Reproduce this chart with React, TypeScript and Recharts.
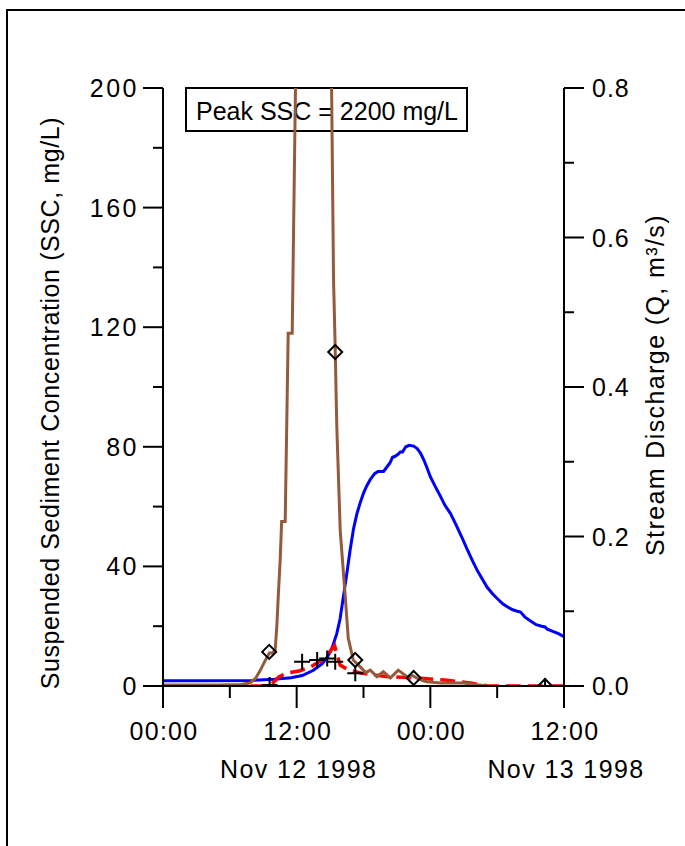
import React from 'react'
import { ComposedChart, Line, Scatter, XAxis, YAxis, Customized } from 'recharts'

// hours since 00:00 Nov 12 1998
const timeTicks = [0, 6, 12, 18, 24, 30, 36]
const timeLabels = ['00:00', '', '12:00', '', '00:00', '', '12:00']
const dateLabels = ['', '', 'Nov 12 1998', '', '', '', 'Nov 13 1998']

const sscTicks = [0, 20, 40, 60, 80, 100, 120, 140, 160, 180, 200]
const sscLabels = ['0', '', '40', '', '80', '', '120', '', '160', '', '200']
const qTicks = [0, 0.1, 0.2, 0.3, 0.4, 0.5, 0.6, 0.7, 0.8]
const qLabels = ['0.0', '', '0.2', '', '0.4', '', '0.6', '', '0.8']

// stream discharge, m3/s
const qHours = [0, 4, 8, 10, 11.5, 12.5, 13.5, 14.3, 14.8, 15.2, 15.6, 15.9, 16.2, 16.5, 16.8, 17.1, 17.4, 17.7, 18.0, 18.3, 18.6, 19.0, 19.3, 19.8, 20.1, 20.4, 20.6, 20.8, 21.1, 21.3, 21.5, 21.8, 22.1, 22.5, 22.8, 23.1, 23.4, 23.7, 24.0, 24.4, 24.9, 25.3, 25.8, 26.3, 26.8, 27.3, 27.8, 28.2, 28.7, 29.1, 29.6, 30.0, 30.5, 30.9, 31.4, 31.8, 32.1, 32.5, 33.0, 33.5, 34.0, 34.3, 34.5, 35.0, 35.5, 36.0]
const qValues = [0.007, 0.007, 0.0075, 0.009, 0.011, 0.014, 0.021, 0.03, 0.04, 0.052, 0.07, 0.09, 0.12, 0.15, 0.182, 0.21, 0.23, 0.245, 0.258, 0.268, 0.276, 0.284, 0.287, 0.287, 0.293, 0.299, 0.306, 0.307, 0.31, 0.313, 0.313, 0.32, 0.322, 0.321, 0.318, 0.312, 0.303, 0.292, 0.28, 0.268, 0.254, 0.242, 0.231, 0.216, 0.2, 0.183, 0.167, 0.155, 0.142, 0.132, 0.123, 0.117, 0.11, 0.106, 0.102, 0.1, 0.099, 0.092, 0.087, 0.082, 0.08, 0.079, 0.076, 0.073, 0.07, 0.066]

// SSC record (brown), mg/L - peaks at 2200 off the top of the axis
const sscHours = [0, 5, 7, 7.8, 8.3, 8.7, 9.1, 9.55, 9.8, 10.07, 10.22, 10.36, 10.52, 10.65, 10.97, 11.24, 11.6, 12.0, 13.5, 15.0, 15.31, 15.46, 15.55, 15.61, 15.91, 16.36, 16.63, 17.08, 17.71, 18.2, 18.61, 19.21, 19.78, 20.41, 21.12, 21.91, 22.4, 22.81, 23.3, 23.7, 24.9, 26.97, 28.0, 29.1]
const sscValues = [0.3, 0.3, 0.5, 1, 2.5, 5, 8, 11, 11, 12, 20, 31, 42, 55, 55, 118, 118, 230, 2200, 250, 136, 113, 96, 86, 52, 30, 16, 8.7, 6.4, 4.5, 5.3, 3.1, 4.8, 2.7, 5.3, 3.1, 3.5, 2.6, 1.8, 1.4, 1, 1, 0.5, 0]

// second SSC estimate (red dashed)
const estHours = [0, 9.6, 10.4, 11.0, 12.3, 13.3, 14.3, 14.9, 15.4, 15.9, 16.7, 17.8, 20.2, 23.1, 25.3, 27.6, 29.2, 36]
const estValues = [0, 0, 3, 4.2, 5.1, 6.5, 8.7, 11, 13.5, 7, 5.3, 4.3, 3.1, 2.6, 2, 1, 0, 0]

// grab samples
const diamondHours = [9.53, 15.46, 17.26, 22.5, 34.3]
const diamondValues = [11.4, 111.7, 8.7, 2.7, 0]
const plusHours = [9.57, 12.49, 13.84, 14.74, 15.46, 17.26, 34.3]
const plusValues = [0.3, 8.1, 8.7, 9.2, 8.1, 4.3, 0]

const toData = (t: number[], v: number[]) => t.map((h, i) => ({ t: h, v: v[i] }))
const qData = toData(qHours, qValues)
const sscData = toData(sscHours, sscValues)
const estData = toData(estHours, estValues)
const diamondData = toData(diamondHours, diamondValues)
const plusData = toData(plusHours, plusValues)

const FONT = 'Arial, "Liberation Sans", sans-serif'
const FS = 25

function BottomTick({ x, y, index }: any) {
  const major = timeLabels[index] !== ''
  return (
    <g>
      <line x1={x} y1={y} x2={x} y2={y + (major ? 22 : 12)} stroke="#000" strokeWidth={2} />
      {major && (
        <text x={x + 1} y={y + 54} textAnchor="middle" fontSize={FS} fontFamily={FONT} letterSpacing={1.3} fill="#000">
          {timeLabels[index]}
        </text>
      )}
      {dateLabels[index] && (
        <text x={x + 2} y={y + 92} textAnchor="middle" fontSize={FS} fontFamily={FONT} letterSpacing={1.4} fill="#000">
          {dateLabels[index]}
        </text>
      )}
    </g>
  )
}

function LeftTick({ x, y, index }: any) {
  const lbl = sscLabels[index]
  return (
    <g>
      <line x1={x - (lbl ? 20 : 10)} y1={y} x2={x} y2={y} stroke="#000" strokeWidth={2} />
      {lbl && (
        <text x={x - 24} y={y} dy="0.36em" textAnchor="end" fontSize={FS} fontFamily={FONT} letterSpacing={2.5} fill="#000">
          {lbl}
        </text>
      )}
    </g>
  )
}

function RightTick({ x, y, index }: any) {
  const lbl = qLabels[index]
  return (
    <g>
      <line x1={x} y1={y} x2={x + (lbl ? 20 : 10)} y2={y} stroke="#000" strokeWidth={2} />
      {lbl && (
        <text x={x + 28} y={y} dy="0.36em" textAnchor="start" fontSize={FS} fontFamily={FONT} letterSpacing={1} fill="#000">
          {lbl}
        </text>
      )}
    </g>
  )
}

const Diamond = ({ cx, cy }: any) => (
  <path d={`M${cx},${cy - 7}L${cx + 7},${cy}L${cx},${cy + 7}L${cx - 7},${cy}Z`} fill="none" stroke="#000" strokeWidth={2} />
)

const Plus = ({ cx, cy }: any) => (
  <path d={`M${cx - 8},${cy}H${cx + 8}M${cx},${cy - 8}V${cy + 8}`} fill="none" stroke="#000" strokeWidth={2} />
)

const Decor = () => (
  <g>
    <path d="M7,846V10H685" fill="none" stroke="#000" strokeWidth={2} />
    <rect x={186} y={88} width={281} height={43} fill="#fff" stroke="#000" strokeWidth={2} />
    <text x={196} y={120} fontSize={FS} fontFamily={FONT} fill="#000">Peak SSC = 2200 mg/L</text>
  </g>
)

export default function App() {
  return (
    <div style={{ position: 'absolute', left: 0, top: 0, width: 685, height: 846, background: '#fff' }}>
      <ComposedChart width={685} height={846} margin={{ top: 88, right: 21, bottom: 60, left: 63 }}>
        <XAxis
          type="number"
          dataKey="t"
          domain={[0, 36]}
          ticks={timeTicks}
          interval={0}
          height={100}
          tickSize={0}
          tickMargin={0}
          tickLine={false}
          axisLine={{ stroke: '#000', strokeWidth: 2 }}
          tick={<BottomTick />}
        />
        <YAxis
          yAxisId="ssc"
          dataKey="v"
          type="number"
          domain={[0, 200]}
          allowDataOverflow
          ticks={sscTicks}
          interval={0}
          width={100}
          tickSize={0}
          tickMargin={0}
          tickLine={false}
          axisLine={{ stroke: '#000', strokeWidth: 2 }}
          tick={<LeftTick />}
          label={{
            content: () => (
              <text x={50} y={403} transform="rotate(-90 50 403)" textAnchor="middle" dominantBaseline="central" fontSize={FS} fontFamily={FONT} letterSpacing={0.6} fill="#000">
                Suspended Sediment Concentration (SSC, mg/L)
              </text>
            ),
          }}
        />
        <YAxis
          yAxisId="q"
          orientation="right"
          dataKey="v"
          type="number"
          domain={[0, 0.8]}
          allowDataOverflow
          ticks={qTicks}
          interval={0}
          width={100}
          tickSize={0}
          tickMargin={0}
          tickLine={false}
          axisLine={{ stroke: '#000', strokeWidth: 2 }}
          tick={<RightTick />}
          label={{
            content: () => (
              <text x={655} y={385} transform="rotate(-90 655 385)" textAnchor="middle" dominantBaseline="central" fontSize={FS} fontFamily={FONT} letterSpacing={1.4} fill="#000">
                Stream Discharge (Q, m³/s)
              </text>
            ),
          }}
        />
        <Line yAxisId="q" data={qData} dataKey="v" type="linear" stroke="#0000ff" strokeWidth={3} dot={false} isAnimationActive={false} />
        <Line yAxisId="ssc" data={estData} dataKey="v" type="linear" stroke="#ff0000" strokeWidth={3.5} strokeDasharray="15 7" dot={false} isAnimationActive={false} />
        <Line yAxisId="ssc" data={sscData} dataKey="v" type="linear" stroke="#935b3b" strokeWidth={3} dot={false} isAnimationActive={false} />
        <Scatter yAxisId="ssc" data={diamondData} dataKey="v" shape={<Diamond />} isAnimationActive={false} />
        <Scatter yAxisId="ssc" data={plusData} dataKey="v" shape={<Plus />} isAnimationActive={false} />
        <Customized component={<Decor />} />
      </ComposedChart>
    </div>
  )
}
